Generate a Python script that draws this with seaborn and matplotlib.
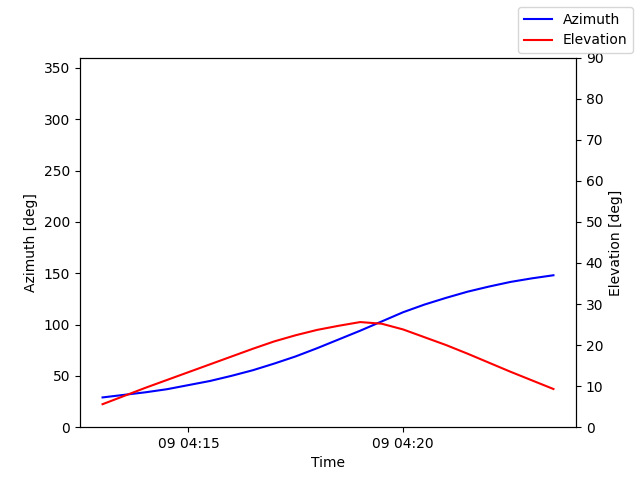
import matplotlib
matplotlib.use("Agg")
import matplotlib.pyplot as plt
import matplotlib.dates as mdates
import seaborn as sns
import pandas as pd

times = pd.date_range("2024-01-09 04:13:00", periods=22, freq="30s")
azimuth = [29, 31.5, 34, 37, 41, 45, 50, 55.5, 62, 69, 77, 85.5, 94, 103, 112,
           119.5, 126, 132, 137, 141.5, 145, 148]
elevation = [5.6, 7.6, 9.6, 11.5, 13.4, 15.3, 17.2, 19.1, 20.9, 22.4, 23.7, 24.7,
             25.6, 25.2, 23.8, 21.9, 20.0, 17.9, 15.7, 13.5, 11.4, 9.3]
df = pd.DataFrame({"Time": times, "Azimuth": azimuth, "Elevation": elevation})

fig, ax = plt.subplots(figsize=(6.4, 4.8), dpi=100)
sns.lineplot(data=df, x="Time", y="Azimuth", color="blue", ax=ax, label="Azimuth", legend=False)
ax2 = ax.twinx()
sns.lineplot(data=df, x="Time", y="Elevation", color="red", ax=ax2, label="Elevation", legend=False)
ax.set_ylim(0, 360)
ax2.set_ylim(0, 90)
ax.set_ylabel("Azimuth [deg]")
ax2.set_ylabel("Elevation [deg]")
ax.set_xlabel("Time")
ax.xaxis.set_major_locator(mdates.MinuteLocator(byminute=range(0, 60, 5)))
ax.xaxis.set_major_formatter(mdates.DateFormatter("%d %H:%M"))
fig.legend(loc="upper right")
fig.savefig("out.png", dpi=100)
